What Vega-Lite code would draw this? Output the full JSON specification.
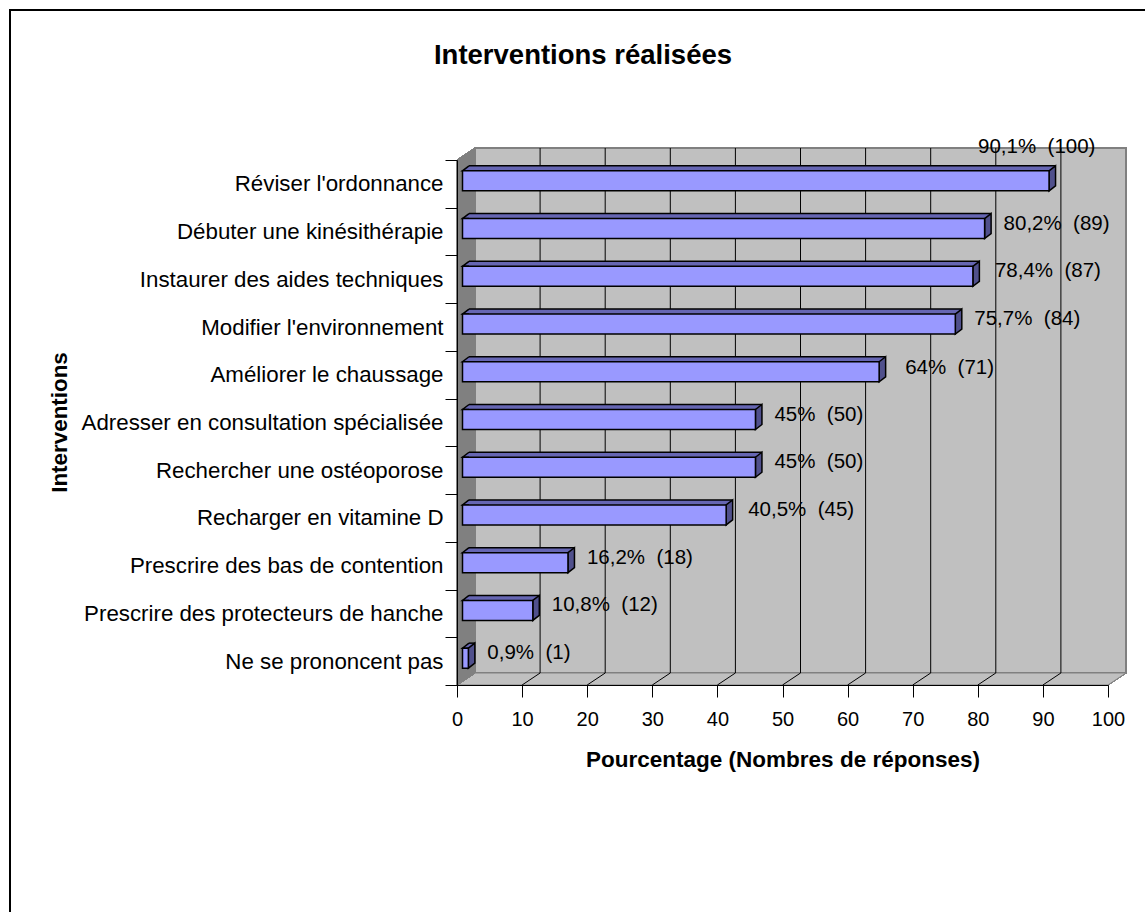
{
  "$schema": "https://vega.github.io/schema/vega-lite/v6.json",
  "autosize": {"type": "none"},
  "padding": {"left": 457, "top": 160, "right": 37, "bottom": 227},
  "width": 651,
  "height": 525,
  "background": "white",
  "config": {"view": {"stroke": null}, "font": "Liberation Sans"},
  "title": {
    "text": "Interventions réalisées",
    "anchor": "middle",
    "frame": "group",
    "dx": -199.5,
    "dy": 62,
    "offset": 0,
    "fontSize": 27.5,
    "fontWeight": "bold",
    "font": "Liberation Sans",
    "color": "#000000"
  },
  "data": {
    "values": [
      {"label": "Réviser l'ordonnance", "pct": 90.1, "n": 100, "etiquette": "90,1%\u00a0 (100)"},
      {"label": "Débuter une kinésithérapie", "pct": 80.2, "n": 89, "etiquette": "80,2%\u00a0 (89)"},
      {"label": "Instaurer des aides techniques", "pct": 78.4, "n": 87, "etiquette": "78,4%\u00a0 (87)"},
      {"label": "Modifier l'environnement", "pct": 75.7, "n": 84, "etiquette": "75,7%\u00a0 (84)"},
      {"label": "Améliorer le chaussage", "pct": 64, "n": 71, "etiquette": "64%\u00a0 (71)"},
      {"label": "Adresser en consultation spécialisée", "pct": 45, "n": 50, "etiquette": "45%\u00a0 (50)"},
      {"label": "Rechercher une ostéoporose", "pct": 45, "n": 50, "etiquette": "45%\u00a0 (50)"},
      {"label": "Recharger en vitamine D", "pct": 40.5, "n": 45, "etiquette": "40,5%\u00a0 (45)"},
      {"label": "Prescrire des bas de contention", "pct": 16.2, "n": 18, "etiquette": "16,2%\u00a0 (18)"},
      {"label": "Prescrire des protecteurs de hanche", "pct": 10.8, "n": 12, "etiquette": "10,8%\u00a0 (12)"},
      {"label": "Ne se prononcent pas", "pct": 0.9, "n": 1, "etiquette": "0,9%\u00a0 (1)"}
    ]
  },
  "encoding": {
    "x": {
      "field": "pct",
      "type": "quantitative",
      "scale": {"domain": [0, 100], "nice": false},
      "axis": {
        "title": "Pourcentage (Nombres de réponses)",
        "titleFontSize": 22.5,
        "titleFontWeight": "bold",
        "titleColor": "#000000",
        "titlePadding": 19,
        "values": [0, 10, 20, 30, 40, 50, 60, 70, 80, 90, 100],
        "labelFontSize": 20,
        "labelColor": "#000000",
        "labelPadding": 12,
        "labelFlush": false,
        "tickSize": 12,
        "tickColor": "#000000",
        "domainColor": "#000000",
        "grid": false,
        "zindex": 1
      }
    },
    "y": {
      "field": "label",
      "type": "nominal",
      "scale": {
        "domain": ["Réviser l'ordonnance", "Débuter une kinésithérapie", "Instaurer des aides techniques", "Modifier l'environnement", "Améliorer le chaussage", "Adresser en consultation spécialisée", "Rechercher une ostéoporose", "Recharger en vitamine D", "Prescrire des bas de contention", "Prescrire des protecteurs de hanche", "Ne se prononcent pas"],
        "paddingInner": 0,
        "paddingOuter": 0
      },
      "axis": {
        "title": "Interventions",
        "titleFontSize": 22.4,
        "titleFontWeight": "bold",
        "titleColor": "#000000",
        "titleX": -386,
        "titleY": 262,
        "labelFontSize": 22.3,
        "labelColor": "#000000",
        "labelPadding": 2,
        "labelLimit": 500,
        "tickBand": "extent",
        "tickSize": 12,
        "tickColor": "#000000",
        "domainColor": "#000000",
        "zindex": 1
      }
    }
  },
  "layer": [
    {
      "description": "Back wall",
      "mark": {"type": "point", "filled": true, "opacity": 1, "size": 4, "fill": "#c0c0c0", "stroke": "#808080", "strokeWidth": 2,
        "shape": "M18 -12H669V-537H18Z"},
      "encoding": {"x": {"datum": 0, "type": "quantitative"}, "y": {"datum": "Ne se prononcent pas", "type": "nominal", "bandPosition": 1}}
    },
    {
      "description": "Floor",
      "mark": {"type": "point", "filled": true, "opacity": 1, "size": 4, "fill": "#c0c0c0", "stroke": "#808080", "strokeWidth": 1,
        "shape": "M0 0L18 -12H669L651 0Z"},
      "encoding": {"x": {"datum": 0, "type": "quantitative"}, "y": {"datum": "Ne se prononcent pas", "type": "nominal", "bandPosition": 1}}
    },
    {
      "description": "Left wall",
      "mark": {"type": "point", "filled": true, "opacity": 1, "size": 4, "fill": "#808080", "stroke": "#808080", "strokeWidth": 1,
        "shape": "M0 0L18 -12V-537L0 -525Z"},
      "encoding": {"x": {"datum": 0, "type": "quantitative"}, "y": {"datum": "Ne se prononcent pas", "type": "nominal", "bandPosition": 1}}
    },
    {
      "description": "Outer frame, left and top sides",
      "mark": {"type": "point", "filled": false, "opacity": 1, "size": 4, "stroke": "#000000", "strokeWidth": 1.5,
        "shape": "M-447 230V-675H690"},
      "encoding": {"x": {"datum": 0, "type": "quantitative"}, "y": {"datum": "Ne se prononcent pas", "type": "nominal", "bandPosition": 1}}
    },
    {
      "description": "Gridlines running over the floor and up the back wall",
      "data": {"values": [{"tick": 10}, {"tick": 20}, {"tick": 30}, {"tick": 40}, {"tick": 50}, {"tick": 60}, {"tick": 70}, {"tick": 80}, {"tick": 90}]},
      "mark": {"type": "point", "filled": false, "opacity": 1, "size": 4, "stroke": "#000000", "strokeWidth": 1,
        "shape": "M0 0L18 -12V-537"},
      "encoding": {
        "x": {"field": "tick", "type": "quantitative"},
        "y": {"datum": "Ne se prononcent pas", "type": "nominal", "bandPosition": 1}
      }
    },
    {
      "description": "Top face of each bar",
      "mark": {"type": "bar", "size": 20, "fill": "#6666b3", "xOffset": 12, "x2Offset": 12, "yOffset": -8, "y2Offset": -8},
      "encoding": {"x2": {"datum": 0}}
    },
    {
      "description": "Back edge of each bar",
      "mark": {"type": "rule", "stroke": "#000000", "strokeWidth": 1.5, "xOffset": 12, "x2Offset": 12, "yOffset": -18},
      "encoding": {"x2": {"datum": 0}}
    },
    {
      "description": "Left corner of each top face",
      "mark": {"type": "point", "filled": true, "opacity": 1, "size": 4, "fill": "#6666b3", "stroke": "#000000", "strokeWidth": 1.5, "xOffset": 5.5, "yOffset": -3,
        "shape": "M6.5 -10L0 -10L6.5 -15"},
      "encoding": {"x": {"datum": 0, "type": "quantitative"}}
    },
    {
      "description": "End face of each bar",
      "mark": {"type": "point", "filled": true, "opacity": 1, "size": 4, "fill": "#50508c", "stroke": "#000000", "strokeWidth": 1.5, "xOffset": 5.5, "yOffset": -3,
        "shape": "M0 -10L6.5 -15V5L0 10Z"}
    },
    {
      "description": "Front face of each bar",
      "mark": {"type": "bar", "size": 20, "fill": "#9999ff", "stroke": "#000000", "strokeWidth": 1.5, "xOffset": 5.5, "x2Offset": 5.5, "yOffset": -3, "y2Offset": -3},
      "encoding": {"x2": {"datum": 0}}
    },
    {
      "description": "Value label sitting above the longest bar",
      "transform": [{"filter": "datum.pct == 90.1"}],
      "mark": {"type": "text", "align": "left", "baseline": "middle", "fontSize": 20.5, "color": "#000000", "dx": -65.5, "dy": -37},
      "encoding": {"text": {"field": "etiquette"}}
    },
    {
      "description": "Value labels beside the middle bars",
      "transform": [{"filter": "datum.pct == 78.4 || datum.pct == 40.5"}],
      "mark": {"type": "text", "align": "left", "baseline": "middle", "fontSize": 20.5, "color": "#000000", "dx": 27.5, "dy": -8},
      "encoding": {"text": {"field": "etiquette"}}
    },
    {
      "description": "Value label of the fifth bar",
      "transform": [{"filter": "datum.pct == 64"}],
      "mark": {"type": "text", "align": "left", "baseline": "middle", "fontSize": 20.5, "color": "#000000", "dx": 31.5, "dy": -6.5},
      "encoding": {"text": {"field": "etiquette"}}
    },
    {
      "description": "Value labels beside the other bars",
      "transform": [{"filter": "datum.pct != 90.1 && datum.pct != 78.4 && datum.pct != 40.5 && datum.pct != 64"}],
      "mark": {"type": "text", "align": "left", "baseline": "middle", "fontSize": 20.5, "color": "#000000", "dx": 24.5, "dy": -8},
      "encoding": {"text": {"field": "etiquette"}}
    }
  ]
}
